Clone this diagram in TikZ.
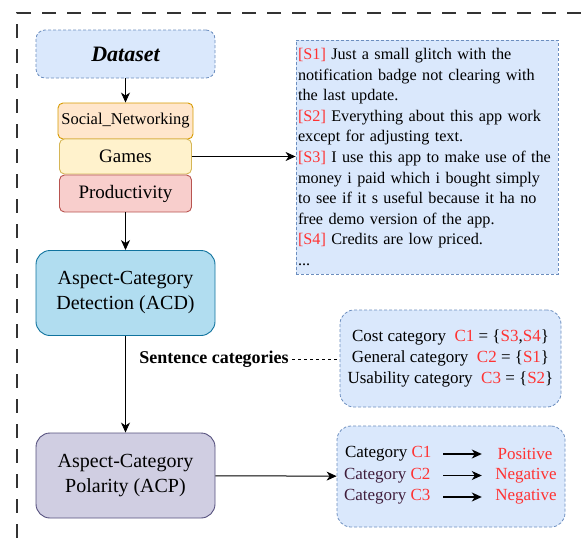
\documentclass[tikz,border=0pt]{standalone}
\usepackage{fontspec}
\setmainfont{Liberation Serif}
\usetikzlibrary{arrows.meta}
\definecolor{blfill}{HTML}{DAE8FC}\definecolor{bldraw}{HTML}{6C8EBF}
\definecolor{snfill}{HTML}{FFE6CC}\definecolor{sndraw}{HTML}{D79B00}
\definecolor{gmfill}{HTML}{FFF2CC}\definecolor{gmdraw}{HTML}{D6B656}
\definecolor{prfill}{HTML}{F8CECC}\definecolor{prdraw}{HTML}{B85450}
\definecolor{acdfill}{HTML}{B1DDF0}\definecolor{acddraw}{HTML}{10739E}
\definecolor{acpfill}{HTML}{D0CEE2}\definecolor{acpdraw}{HTML}{56517E}
\definecolor{redtxt}{RGB}{255,51,51}\definecolor{plum}{RGB}{64,30,60}
\newcommand{\rd}[1]{\textcolor{redtxt}{#1}}
\begin{document}
\begin{tikzpicture}[x=1pt,y=-1pt,>={Stealth[length=10pt,width=9pt,inset=3pt]},
    blue box/.style={draw=bldraw,fill=blfill,dash pattern=on 3pt off 2pt,line width=0.8pt},
    app/.style={draw=#1draw,fill=#1fill,rounded corners=5pt,line width=0.9pt,minimum width=132pt,
      font=\fontsize{19}{22}\selectfont},
    task/.style={draw=#1draw,fill=#1fill,rounded corners=14pt,line width=0.9pt,minimum width=179pt,
      minimum height=85pt,align=center,font=\fontsize{20}{25}\selectfont},
    small/.style={font=\fontsize{17}{21}\selectfont}]
  \useasboundingbox (0,0) rectangle (581,538);
  \draw[gray!40!black,line width=1.2pt,dash pattern=on 14pt off 11pt] (581,13) -- (17,13) -- (17,538);
  \node[blue box,rounded corners=9pt,minimum width=179pt,minimum height=48pt,
    font=\fontsize{22}{26}\selectfont\bfseries\itshape] (data) at (125.5,54) {Dataset};
  \node[app=sn,minimum height=36pt,font=\fontsize{16.5}{20}\selectfont] (social) at (125.5,121) {Social\_Networking};
  \node[app=gm,minimum height=35pt] (games) at (125.5,156.5) {Games};
  \node[app=pr,minimum height=37pt] (prod) at (125.5,193.5) {Productivity};
  \node[task=acd] (acd) at (125.5,293) {Aspect-Category\\Detection (ACD)};
  \node[task=acp] (acp) at (125.5,475.5) {Aspect-Category\\Polarity (ACP)};
  \node[blue box,minimum width=262pt,minimum height=234pt,text width=258pt,align=left,inner sep=2pt,
    font=\fontsize{16.2}{20.6}\selectfont] (sent) at (427,157)
    {\rd{[S1]} Just a small glitch with the\\ notification badge not clearing with\\ the last update.\\
     \rd{[S2]} Everything about this app work\\ except for adjusting text.\\
     \rd{[S3]} I use this app to make use of the\\ money i paid which i bought simply\\
     to see if it s useful because it ha no\\ free demo version of the app.\\
     \rd{[S4]} Credits are low priced.\\ ...};
  \node[blue box,rounded corners=14pt,minimum width=221pt,minimum height=97pt,align=center,small] (cats)
    at (450.5,358.5) {Cost category\ \ \rd{C1} = \{\rd{S3},\rd{S4}\}\\ General category\ \ \rd{C2} = \{\rd{S1}\}\\
    Usability category\ \ \rd{C3} = \{\rd{S2}\}};
  \node[blue box,rounded corners=14pt,minimum width=228pt,minimum height=101pt] (pol) at (451,476.5) {};
  \node[small,font=\fontsize{18}{21}\selectfont\bfseries] (lbl) at (214,359) {Sentence categories};
  % polarity rows
  \node[small,anchor=east] (c1) at (435,454) {Category \rd{C1}};
  \node[small,anchor=east,text=plum] (c2) at (434,475.5) {Category \rd{C2}};
  \node[small,anchor=east,text=plum] (c3) at (434,497) {Category \rd{C3}};
  \node[small,text=redtxt] (p1) at (525,454) {Positive};
  \node[small,text=redtxt] (p2) at (526,475.5) {Negative};
  \node[small,text=redtxt] (p3) at (526,497) {Negative};
  \foreach \i in {1,2,3} \draw[->,line width=1.1pt] (443,0 |- c\i.east) -- ([xshift=-10pt]c\i.east -| p2.west);
  % flow
  \draw[->,line width=1pt] (data) -- (social); \draw[->,line width=1pt] (prod) -- (acd);
  \draw[->,line width=1pt] (acd) -- (acp); \draw[->,line width=1pt] (games) -- (sent.west |- games);
  \draw[->,line width=1pt] (acp) -- (pol); \draw[dashed,line width=0.8pt] (lbl.east) -- (cats.west |- lbl);
\end{tikzpicture}
\end{document}
